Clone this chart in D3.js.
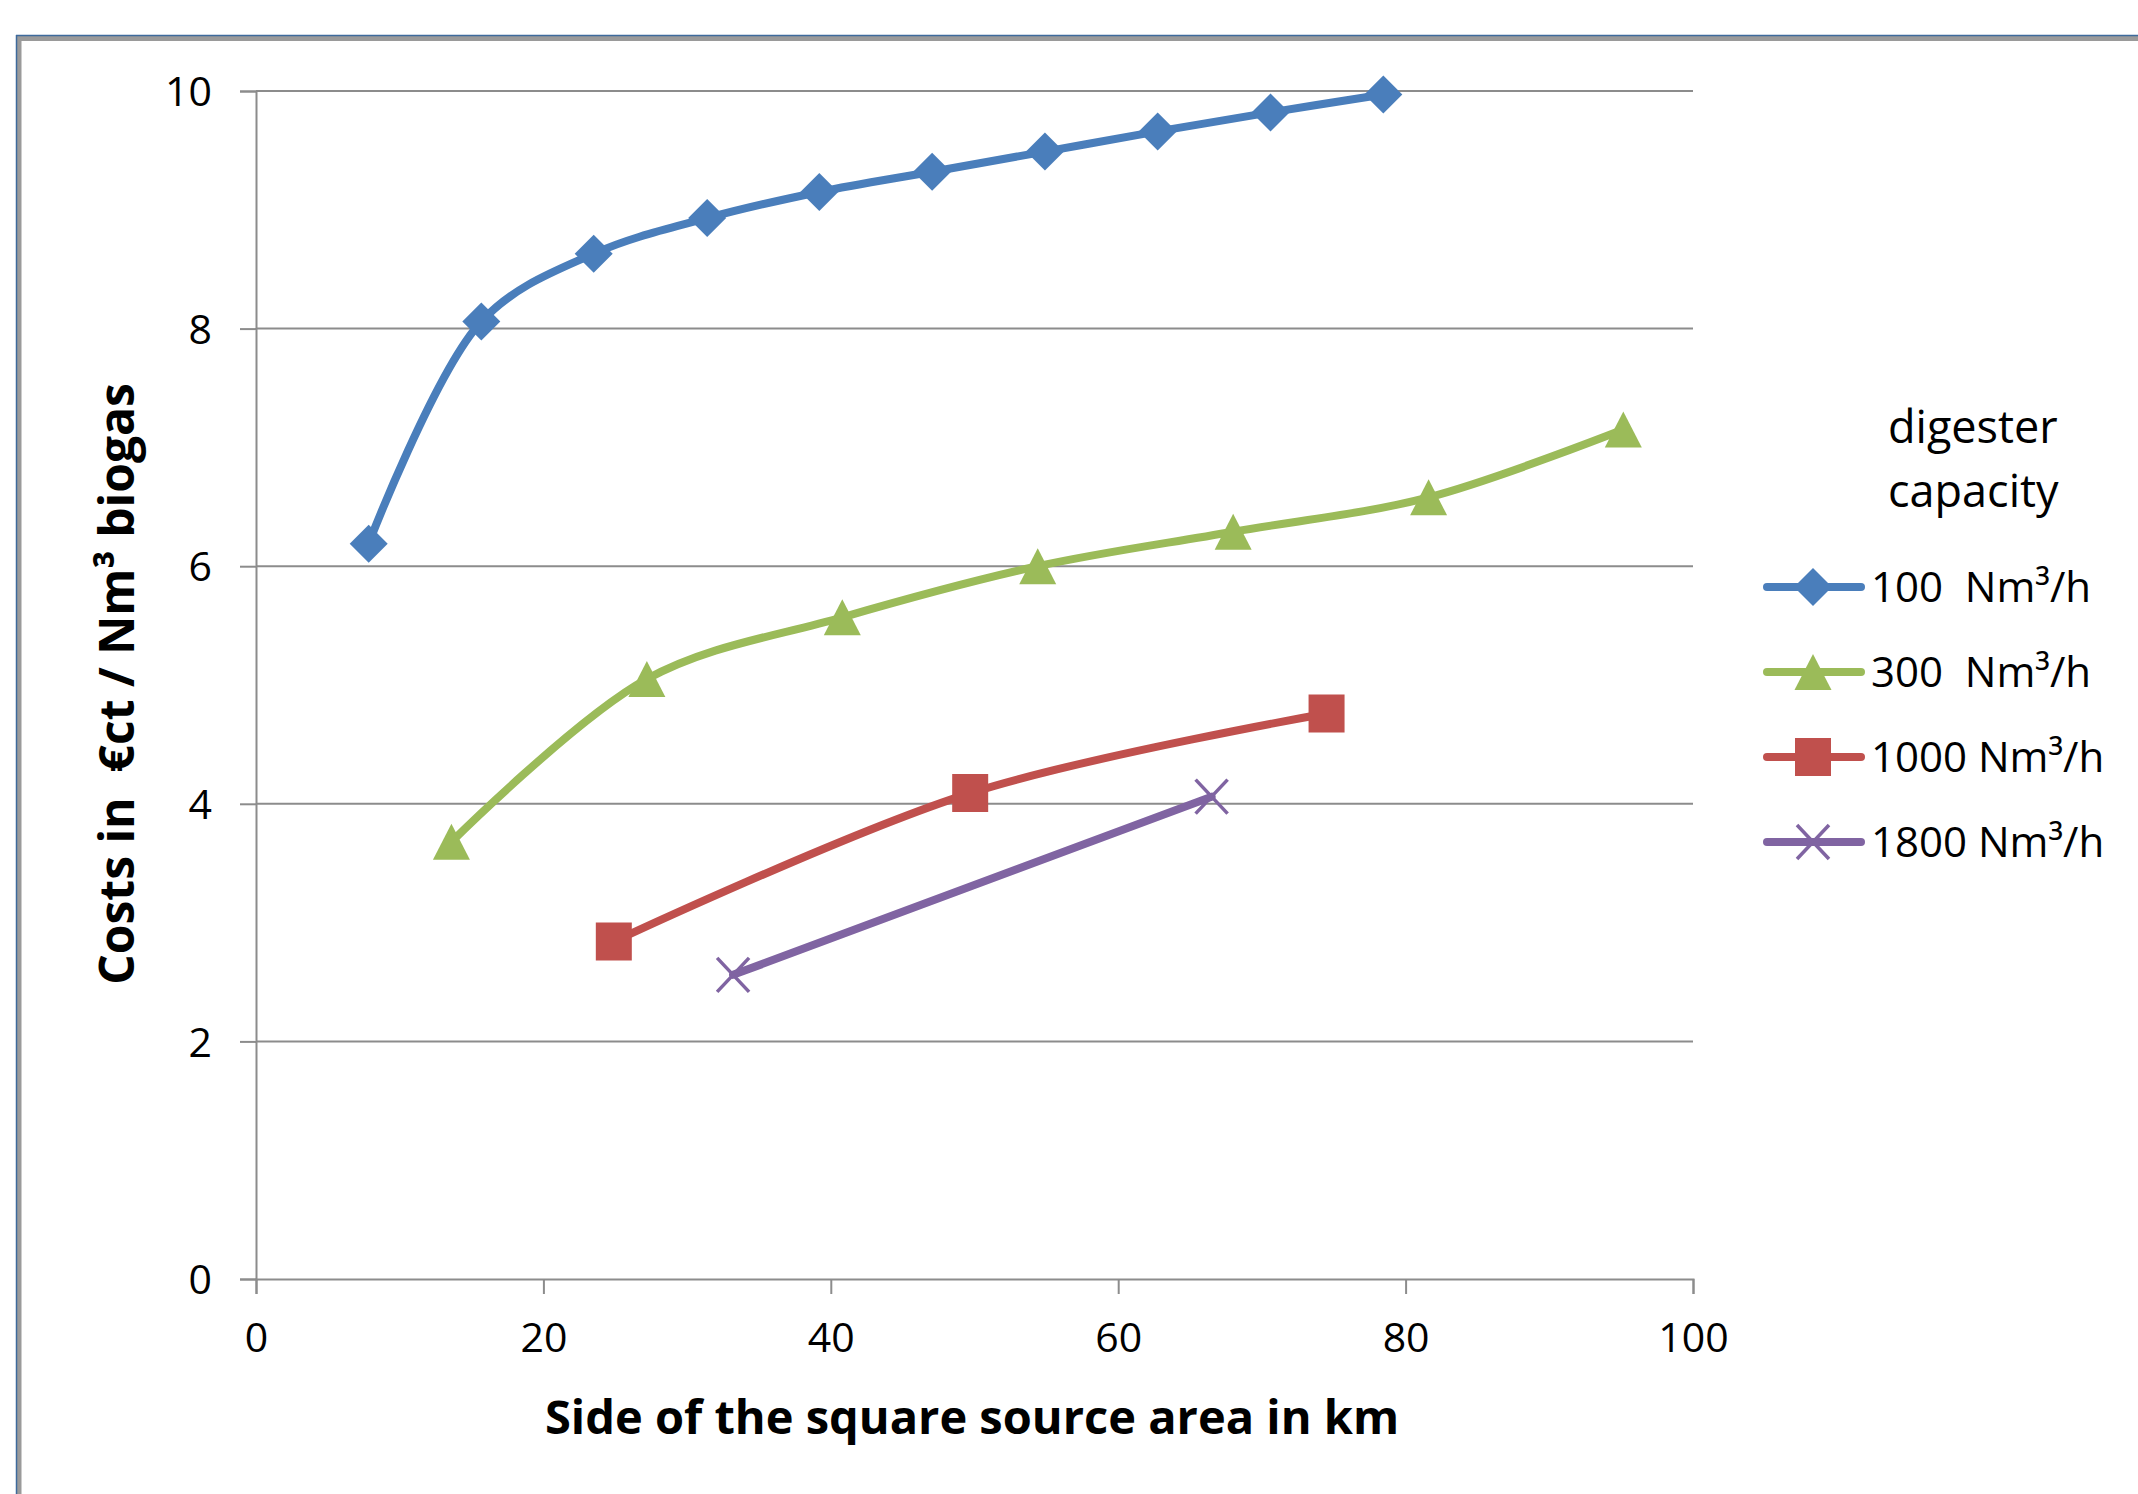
<!DOCTYPE html>
<html>
<head>
<meta charset="utf-8">
<script src="https://cdn.jsdelivr.net/npm/d3@7"></script>
<style>
  html, body { margin: 0; padding: 0; background: #ffffff; }
  svg { display: block; }
  text { font-family: "Open Sans", "Noto Sans", sans-serif; fill: #000; }
</style>
</head>
<body>
<script>
// ---------- data ----------
const seriesNames = ["100  Nm³/h", "300  Nm³/h", "1000 Nm³/h", "1800 Nm³/h"];
const seriesColors = ["#4a7ebb", "#9bbb59", "#c0504d", "#8064a2"];
const seriesMarkers = ["diamond", "triangle", "square", "x"];

const x100 = [7.84, 15.68, 23.5, 31.4, 39.2, 47.05, 54.9, 62.75, 70.6, 78.45];
const y100 = [6.19, 8.06, 8.63, 8.93, 9.15, 9.32, 9.49, 9.66, 9.82, 9.97];

const x300 = [13.6, 27.2, 40.8, 54.4, 68.0, 81.6, 95.15];
const y300 = [3.68, 5.05, 5.57, 6.00, 6.29, 6.58, 7.15];

const x1000 = [24.9, 49.7, 74.5];
const y1000 = [2.84, 4.09, 4.76];

const x1800 = [33.2, 66.5];
const y1800 = [2.56, 4.06];

const xTicks = [0, 20, 40, 60, 80, 100];
const yTicks = [0, 2, 4, 6, 8, 10];

const xTitle = "Side of the square source area in km";
const yTitle = "Costs in  €ct / Nm³ biogas";
const legendTitle = ["digester", "capacity"];

const seriesX = [x100, x300, x1000, x1800];
const seriesY = [y100, y300, y1000, y1800];

// ---------- layout ----------
const W = 2138, H = 1494;
const svg = d3.select("body").append("svg").attr("width", W).attr("height", H);

const xs = d3.scaleLinear().domain([0, 100]).range([256, 1693]);
const ys = d3.scaleLinear().domain([0, 10]).range([1279, 91]);

// outer frame (chart area border)
svg.append("line").attr("x1", 19).attr("x2", W).attr("y1", 38.5).attr("y2", 38.5)
  .attr("stroke", "#9a9a9a").attr("stroke-width", 5);
svg.append("line").attr("x1", 19).attr("x2", 19).attr("y1", 36).attr("y2", H)
  .attr("stroke", "#9a9a9a").attr("stroke-width", 5);
svg.append("line").attr("x1", 16).attr("x2", W).attr("y1", 35.5).attr("y2", 35.5)
  .attr("stroke", "#3d6a9c").attr("stroke-width", 1.5);
svg.append("line").attr("x1", 16.5).attr("x2", 16.5).attr("y1", 35).attr("y2", H)
  .attr("stroke", "#3d6a9c").attr("stroke-width", 1.5);

// gridlines
svg.append("g").selectAll("line").data(yTicks.filter(d => d > 0)).join("line")
  .attr("x1", xs(0)).attr("x2", xs(100))
  .attr("y1", d => ys(d)).attr("y2", d => ys(d))
  .attr("stroke", "#8c8c8c").attr("stroke-width", 2);

// axes
const gx = svg.append("g").attr("transform", `translate(0,${ys(0)})`)
  .call(d3.axisBottom(xs).tickValues(xTicks).tickSize(15).tickPadding(29).tickFormat(d3.format("d")));
const gy = svg.append("g").attr("transform", `translate(${xs(0)},0)`)
  .call(d3.axisLeft(ys).tickValues(yTicks).tickSize(16).tickPadding(28).tickFormat(d3.format("d")));
[gx, gy].forEach(g => {
  g.select(".domain").attr("stroke", "#8c8c8c").attr("stroke-width", 2);
  g.selectAll(".tick line").attr("stroke", "#8c8c8c").attr("stroke-width", 2);
  g.selectAll(".tick text").style("font-size", "41px").attr("fill", "#000");
});
gx.selectAll(".tick text").attr("dy", "0.71em");
gy.selectAll(".tick text").attr("dy", "0.36em");

// axis titles
svg.append("text").attr("x", 972).attr("y", 1434).attr("text-anchor", "middle")
  .style("font-size", "47px").style("font-weight", "bold").text(xTitle);
svg.append("text").attr("transform", "translate(134,684) rotate(-90)").attr("text-anchor", "middle")
  .style("font-size", "48px").style("font-weight", "bold").style("white-space", "pre").text(yTitle);

// marker shapes
function markerPath(type) {
  if (type === "diamond") return "M0,-19L19,0L0,19L-19,0Z";
  if (type === "triangle") return "M0,-18L18.5,18L-18.5,18Z";
  if (type === "square") return "M-18,-19H18V19H-18Z";
  return "M-16,-17L16,17M-16,17L16,-17";
}

// series
const line = d3.line().x(d => xs(d[0])).y(d => ys(d[1])).curve(d3.curveCatmullRom.alpha(0.5));
seriesX.forEach((xv, i) => {
  const pts = xv.map((v, j) => [v, seriesY[i][j]]);
  const g = svg.append("g");
  g.append("path").attr("d", line(pts)).attr("fill", "none")
    .attr("stroke", seriesColors[i]).attr("stroke-width", 8).attr("stroke-linejoin", "round").attr("stroke-linecap", "round");
  g.selectAll("path.m").data(pts).join("path").attr("class", "m")
    .attr("transform", d => `translate(${xs(d[0])},${ys(d[1])})`)
    .attr("d", markerPath(seriesMarkers[i]))
    .attr("fill", seriesMarkers[i] === "x" ? "none" : seriesColors[i])
    .attr("stroke", seriesMarkers[i] === "x" ? seriesColors[i] : "none")
    .attr("stroke-width", 3.5);
});

// legend
const lg = svg.append("g");
lg.selectAll("text.t").data(legendTitle).join("text").attr("class", "t")
  .attr("x", 1888).attr("y", (d, i) => 443 + i * 64)
  .style("font-size", "45px").text(d => d);
const rows = lg.selectAll("g.r").data(seriesNames).join("g").attr("class", "r")
  .attr("transform", (d, i) => `translate(0,${587 + i * 85})`);
rows.append("line").attr("x1", 1767).attr("x2", 1861).attr("y1", 0).attr("y2", 0)
  .attr("stroke", (d, i) => seriesColors[i]).attr("stroke-width", 8).attr("stroke-linecap", "round");
rows.append("path").attr("transform", "translate(1813,0)")
  .attr("d", (d, i) => markerPath(seriesMarkers[i]))
  .attr("fill", (d, i) => seriesMarkers[i] === "x" ? "none" : seriesColors[i])
  .attr("stroke", (d, i) => seriesMarkers[i] === "x" ? seriesColors[i] : "none")
  .attr("stroke-width", 3.5);
rows.append("text").attr("x", 1871).attr("y", 0).attr("dy", "0.36em")
  .style("font-size", "42px").style("white-space", "pre").text(d => d);
</script>
</body>
</html>
